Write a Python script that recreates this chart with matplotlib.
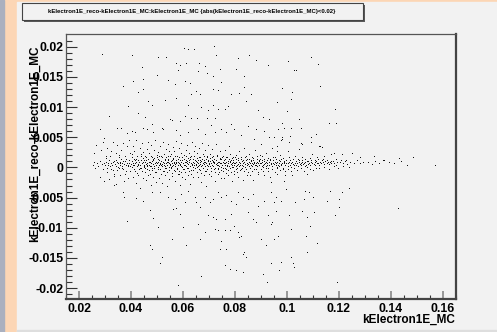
import numpy as np
import matplotlib
matplotlib.use("Agg")
from matplotlib import pyplot as plt
from matplotlib.patches import Rectangle

# all points are (kElectron1E_MC, reco - MC) in units of 1e-4
upper_tail = [(288,186),(405,185),(502,181),(534,181),(603,196),(620,194),(642,194),(719,200),(728,185),
              (811,179),(855,185),(881,177),(926,168),(441,164),(572,171),(588,168),(613,172),(662,172),
              (683,167),(581,159),(658,158),(692,154),(715,150),(741,161),(747,139),(804,161),(834,149),
              (409,142),(447,144),(501,151),(543,143),(569,137),(607,142),(626,138),(651,125),(632,120),
              (664,120),(715,128),(734,127),(785,120),(817,122),(834,131),(368,134),(428,124),(447,128),
              (464,109),(530,110),(575,114),(479,101),(390,100),(620,101),(671,98),(696,93),(715,101),
              (734,95),(760,95),(773,100),(843,109),(862,120),(887,93),(906,82),(932,79),(314,83),(426,89),
              (454,82),(479,70),(549,79),(556,77),(588,76),(607,83),(632,81),(655,80),(692,81),(707,68),
              (722,81),(747,62),(785,70),(798,62),(849,67),(881,62),(913,59),(932,48),(282,62),(298,47),
              (345,63),(362,64),(384,55),(403,59),(416,57),(447,64),(460,62),(486,57),(518,64),(524,62),
              (575,61),(588,52),(620,57),(658,62),(683,54),(724,57),(766,57),(824,52),(875,45),(900,37),
              (951,48),(964,62),
              (1094,181),(1004,174),(1119,170),(1025,159),(1035,159),(1127,134),(980,130),(1020,124),
              (1017,112),(961,106),(999,92),(1184,95),(1046,78),(981,72),(989,64),(1017,63),(1055,64),
              (1161,72),(1189,72),(1113,53),(1092,49),(1012,50),(980,48),(976,44),(1055,38),(1125,34),
              (1136,32),(961,33),(941,30),
              (979,45),(1008,40),(1059,37),(1091,40),(1127,34),(963,26),(1002,26),(1046,29),(1097,21),
              (1142,18),(1168,21),(1180,23),(1212,21),(1250,22),(1282,15),(1333,17),(1372,10),(1429,14),
              (1484,15)]

lower_tail = [(333,-31),(371,-42),(375,-51),(418,-53),(447,-57),(479,-43),(511,-42),(543,-51),(569,-54),
              (594,-46),(607,-59),(620,-40),(645,-51),(651,-59),(664,-68),(683,-51),(702,-59),(715,-54),
              (734,-43),(747,-51),(766,-48),(785,-57),(804,-62),(811,-43),(830,-51),(849,-54),(868,-46),
              (887,-65),(913,-57),(938,-43),(957,-51),(384,-90),(473,-73),(486,-85),(505,-101),(562,-70),
              (575,-69),(588,-79),(600,-101),(556,-120),(473,-130),(613,-131),(658,-95),(664,-120),
              (696,-81),(715,-84),(722,-103),(728,-87),(734,-106),(741,-137),(747,-123),(760,-87),
              (760,-106),(766,-137),(779,-106),(785,-79),(798,-98),(811,-109),(817,-117),(824,-115),
              (830,-145),(836,-142),(843,-150),(849,-76),(868,-87),(881,-92),(900,-120),(919,-131),
              (926,-81),(938,-95),(951,-120),(518,-150),(511,-160),(760,-163),(779,-170),(804,-172),
              (830,-175),(671,-181),(907,-178),(923,-192),(581,-197),(683,-109),(479,-137),
              (938,-26),(989,-24),(995,-37),(1068,-40),(1085,-43),(1101,-51),(1065,-54),(1152,-57),
              (1199,-54),(1212,-43),(1240,-35),(1165,-41),(976,-57),(951,-59),(1030,-59),(1199,-68),
              (957,-74),(1059,-74),(1104,-75),(1006,-81),(1184,-80),(1076,-84),(944,-92),(1088,-99),
              (1017,-103),(1426,-69),(966,-116),(1072,-116),(1114,-127),(1076,-142),(1015,-150),
              (976,-158),(938,-160),(1023,-160),(1027,-167),(970,-172),(1193,-191)]

band_core = [(252,3),(258,8),(263,-2),(268,5),(274,1),(281,9),(287,4),(293,-4),(297,6),
             (301,2),(304,7),(308,-3),(312,5),(315,11),(319,0),(323,6),(327,3),(331,-6),(334,9),(338,4),
             (342,1),(346,7),(349,-1),
             (351,5),(353,-2),(356,8),(359,3),(362,12),(364,0),(367,6),(370,-5),(373,4),(376,9),(379,2),
             (382,-8),(385,6),(388,3),(392,10),(396,1),
             (401,4),(403,9),(405,-1),(408,6),(410,13),(412,2),(415,-7),(417,5),(420,8),(422,0),(425,11),
             (427,3),(430,-4),(432,7),(435,2),(438,10),(440,-2),(443,5),(446,8),(449,1),
             (451,3),(453,7),(455,-3),(457,10),(459,4),(461,0),(463,6),(466,12),(468,-6),(470,3),(472,8),
             (474,1),(477,5),(479,-2),(481,9),(483,4),(486,13),(488,0),(491,6),(493,-9),(495,3),(498,7),
             (501,5),(502,-1),(504,8),(506,3),(508,11),(510,-4),(512,6),(514,2),(516,9),(518,0),(520,4),
             (523,7),(525,-7),(527,5),(529,12),(531,1),(534,6),(536,-3),(538,8),(540,3),(543,10),(545,-1),
             (547,5),(549,2),
             (551,4),(552,9),(554,-2),(556,6),(558,1),(560,12),(562,3),(564,-6),(566,7),(568,4),(570,0),
             (572,10),(575,5),(577,-3),(579,8),(581,2),(583,6),(585,-8),(588,4),(590,11),(592,1),(594,7),
             (596,-1),(599,5),
             (601,6),(603,2),(605,-4),(607,8),(609,3),(611,11),(613,0),(615,5),(617,9),(619,-2),(621,4),
             (624,7),(626,1),(628,12),(630,-6),(632,5),(634,3),(637,8),(639,-1),(641,6),(643,2),(645,10),
             (647,-3),(649,4),
             (651,3),(653,8),(655,-1),(657,5),(659,10),(661,2),(663,-5),(665,7),(667,4),(669,0),(671,9),
             (673,3),(676,6),(678,-3),(680,11),(682,4),(684,1),(686,7),(688,-7),(690,5),(692,2),(695,9),
             (697,0),(699,6),
             (701,4),(703,9),(705,1),(707,6),(709,-3),(711,11),(713,3),(715,7),(717,0),(719,5),(721,8),
             (723,-2),(725,4),(727,10),(729,2),(731,6),(733,-5),(735,3),(737,8),(740,1),(742,5),(744,12),
             (746,-1),(748,6),
             (751,3),(753,7),(755,-2),(757,5),(759,10),(761,2),(763,6),(765,-4),(767,8),(769,3),(771,0),
             (773,9),(775,5),(777,1),(779,7),(781,-3),(783,4),(785,11),(787,2),(789,6),(791,-1),(793,8),
             (795,3),(798,5),
             (801,6),(803,1),(805,8),(807,3),(809,-3),(811,10),(813,4),(815,0),(817,7),(819,2),(821,5),
             (824,-5),(826,9),(828,3),(830,6),(832,1),(834,8),(837,-1),(839,4),(842,11),(845,2),(848,6),
             (851,4),(853,8),(855,1),(857,5),(859,-2),(861,9),(863,3),(865,6),(867,0),(869,10),(871,4),
             (873,7),(875,-4),(877,2),(879,6),(881,3),(883,8),(886,0),(888,5),(891,11),(894,2),(897,6),
             (901,5),(903,1),(905,7),(907,3),(909,-1),(911,9),(913,4),(915,6),(918,0),(920,8),(922,3),
             (924,5),(927,-3),(929,7),(931,2),(934,10),(937,4),(940,6),(943,1),(947,5),
             (951,4),(953,7),(956,2),(958,5),(960,-1),(963,8),(965,3),(968,6),(970,0),(973,9),(975,4),
             (978,2),(981,6),(984,-2),(987,5),(990,8),(994,3),(998,6),
             (1002,5),(1005,1),(1008,7),(1011,3),(1014,6),(1017,-1),(1020,8),(1023,4),(1026,2),(1029,6),
             (1033,9),(1036,3),(1039,5),(1042,0),(1046,7),(1049,4),
             (1052,6),(1055,2),(1058,8),(1061,4),(1064,5),(1068,1),(1071,7),(1074,3),(1078,9),(1082,4),
             (1085,6),(1089,2),(1093,7),(1097,5),
             (1102,4),(1106,7),(1109,3),(1113,9),(1117,5),(1120,6),(1124,2),(1128,8),(1132,5),(1137,7),
             (1141,4),(1146,9),
             (1152,6),(1157,8),(1161,4),(1166,7),(1171,5),(1176,9),(1181,6),(1187,3),(1194,8),
             (1205,7),(1214,5),(1223,9),(1232,4),(1241,8),(1256,6),(1268,10),(1279,5),(1291,7),
             (1312,8),(1326,4),(1339,9),(1355,6),(1371,11),(1392,7),(1413,5),(1437,9),(1461,3),(1568,3)]

band_wide = [(302,14),(308,-9),(313,3),(319,17),(325,-4),(331,8),(336,-12),(342,11),(348,-6),(353,15),
             (359,5),(365,-2),(370,9),(376,-13),(382,12),(387,0),(393,6),(398,-8),
             (402,16),(406,2),(410,-5),(414,10),(418,13),(422,-11),(426,4),(430,7),(434,-3),(438,18),
             (442,-7),(446,14),(449,-1),
             (451,11),(454,-9),(457,16),(460,3),(463,-4),(466,13),(469,8),(472,-12),(475,17),(478,1),
             (481,-6),(484,10),(487,14),(490,-2),(493,6),(496,-10),(499,15),
             (502,12),(505,-5),(508,17),(511,4),(514,-13),(517,9),(520,15),(523,-8),(526,2),(529,11),
             (532,-3),(535,16),(538,-10),(541,7),(544,13),(547,-6),(550,18),
             (553,-1),(556,10),(559,-11),(562,14),(565,5),(568,-7),(571,17),(574,8),(577,-4),(580,12),
             (583,-12),(586,15),(589,3),(592,-9),(595,11),(598,16),
             (601,-5),(604,13),(607,-10),(610,17),(613,7),(616,-3),(619,14),(622,-8),(625,10),(628,15),
             (631,-12),(634,4),(637,12),(640,-6),(643,18),(646,-2),(649,9),
             (652,-9),(655,14),(658,1),(661,16),(664,-6),(667,11),(670,-11),(673,13),(676,-3),(679,17),
             (682,7),(685,-8),(688,12),(691,15),(694,-5),(697,10),
             (700,-12),(703,14),(706,5),(709,-7),(712,16),(715,9),(718,-4),(721,13),(724,-10),(727,11),
             (730,17),(733,-2),(736,8),(739,-9),(742,14),(745,-6),(748,12),
             (751,15),(754,-8),(757,10),(760,-3),(763,13),(766,-11),(769,16),(772,6),(775,-6),(778,12),
             (781,9),(784,-9),(787,14),(790,-1),(793,11),(796,-7),(799,15),
             (802,-4),(805,12),(809,-10),(812,14),(816,7),(819,-6),(823,13),(826,-2),(830,10),(833,-8),
             (837,15),(840,4),(844,-5),(847,12),
             (851,-9),(855,13),(859,-3),(863,11),(867,-7),(871,14),(875,6),(879,-5),(883,12),(887,-10),
             (891,9),(895,13),(899,-4),
             (903,11),(908,-7),(913,13),(918,-3),(923,10),(928,-8),(933,12),(938,5),(943,-5),(948,11),
             (953,-9),(958,13),(963,-2),(968,10),(973,-6),(978,12),(983,-4),(988,9),(993,-7),(998,11),
             (1004,-5),(1010,10),(1016,-8),(1022,12),(1028,-3),(1034,9),(1040,-6),(1046,11),(1052,-2),
             (1058,10),(1064,-7),(1070,12),(1076,-1),(1082,9),(1088,-4),(1094,11),(1100,-6),(1106,10),
             (1112,-2),(1118,12),
             (1125,-3),(1134,10),(1143,-1),(1152,11),(1161,-4),(1170,9),(1179,0),(1188,12),(1197,-2),
             (1206,10),(1215,1),(1228,11),(1240,-1)]

band_halo = [(256,22),(266,35),(279,-18),(284,28),(291,41),(298,-25),
             (303,18),(309,31),(317,-21),(322,25),(329,40),(336,-16),(341,22),(347,36),(344,-29),
             (354,19),(358,-15),(363,27),(368,38),(372,-24),(377,17),(384,33),(389,-19),(393,44),(398,23),
             (402,21),(406,-17),(409,34),(413,26),(418,-28),(421,43),(424,17),(428,-14),(433,31),(436,-36),
             (439,20),(442,39),(445,-19),(448,24),
             (452,18),(456,-22),(460,29),(464,41),(467,-15),(471,23),(475,35),(478,-31),(482,16),(485,-18),
             (489,27),(492,44),(496,-26),(499,19),
             (503,24),(507,-19),(511,33),(515,17),(519,-27),(522,40),(526,21),(530,-15),(533,29),(537,-33),
             (541,18),(544,37),(546,-21),(548,26),
             (553,20),(557,-16),(561,32),(565,25),(569,-24),(573,42),(576,18),(580,-13),(584,30),(587,-30),
             (591,22),(593,38),(595,-18),(598,16),
             (602,19),(606,-21),(610,28),(614,36),(618,-14),(623,22),(627,-29),(631,17),(635,41),(640,-17),
             (644,25),(648,33),
             (652,23),(656,-18),(660,31),(664,16),(668,-26),(672,39),(677,20),(681,-15),(685,27),(689,-32),
             (693,18),(698,35),
             (702,21),(706,-16),(712,29),(716,17),(722,-24),(726,37),(732,19),(736,-13),(741,26),(747,-20),
             (752,18),(756,-19),(762,27),(766,15),(772,-14),(776,33),(782,20),(788,-25),(792,16),(797,-12),
             (804,19),(810,-17),(816,26),(822,15),(829,-22),(836,31),(841,17),(847,-14),
             (854,21),(858,-15),(864,16),(870,-23),(876,28),(884,17),(890,-13),(896,19),
             (904,17),(912,-14),(919,22),(926,14),(935,-18),(945,16),
             (955,16),(962,-13),(972,19),(983,14),(993,-15),
             (1007,15),(1018,-14),(1031,18),(1044,13),
             (1059,16),(1076,-12),(1090,14),
             (1115,15),(1139,13)]

title = "kElectron1E_reco-kElectron1E_MC:kElectron1E_MC {abs(kElectron1E_reco-kElectron1E_MC)<0.02}"
xlabel = "kElectron1E_MC"
ylabel = "kElectron1E_reco-kElectron1E_MC"

pts = np.array(upper_tail + lower_tail + band_core + band_wide + band_halo, dtype=float) * 1e-4

W, H = 497, 332
fig = plt.figure(figsize=(W / 100, H / 100), dpi=100)
fig.patch.set_facecolor("#fcd6b5")

# screenshot surroundings + ROOT canvas
fig.patches.append(Rectangle((0, 0), 4 / W, 1, transform=fig.transFigure, color="#aab0bf", zorder=0))
fig.patches.append(Rectangle((17 / W, 0), 1, 1 - 2 / H, transform=fig.transFigure, color="#f2f2f2", zorder=0))
fig.patches.append(Rectangle((17 / W, 0), 1, 2 / H, transform=fig.transFigure, color="#dedede", zorder=0))

# title box with shadow
fig.patches.append(Rectangle((24 / W, 1 - 22 / H), 341 / W, 17 / H, transform=fig.transFigure,
                             facecolor="#5a5a5a", edgecolor="none", zorder=1))
fig.patches.append(Rectangle((22 / W, 1 - 20 / H), 341 / W, 17 / H, transform=fig.transFigure,
                             facecolor="#f2f2f2", edgecolor="#444444", lw=0.8, zorder=2))
fig.text(192 / W, 1 - 11.5 / H, title, ha="center", va="center", fontsize=4.3,
         fontweight="bold", family="Liberation Sans", zorder=3)

ax = fig.add_axes([66 / W, 1 - 299 / H, 390 / W, 265 / H])
ax.set_zorder(5)
ax.set_facecolor("#f2f2f2")
ax.plot(pts[:, 0], pts[:, 1], ",", color="#111111")

ax.set_xlim(0.0158, 0.165)
ax.set_ylim(-0.0218, 0.0221)
ax.set_xticks(np.arange(0.02, 0.161, 0.02))
ax.set_xticks(np.arange(0.015, 0.165, 0.005), minor=True)
ax.set_yticks(np.arange(-0.02, 0.0201, 0.005))
ax.set_yticks(np.arange(-0.021, 0.022, 0.001), minor=True)
ax.set_xticklabels(["0.02", "0.04", "0.06", "0.08", "0.1", "0.12", "0.14", "0.16"])
ax.set_yticklabels(["-0.02", "-0.015", "-0.01", "-0.005", "0", "0.005", "0.01", "0.015", "0.02"])

ax.tick_params(axis="both", which="both", direction="in", top=False, right=False, colors="#333333")
ax.tick_params(axis="x", which="major", length=5.8, width=1.2, pad=3, color="#888888")
ax.tick_params(axis="x", which="minor", length=3.2, width=0.8)
ax.tick_params(axis="y", which="major", length=7.9, width=0.8, pad=2)
ax.tick_params(axis="y", which="minor", length=4.0, width=0.8)
for lab in ax.get_xticklabels() + ax.get_yticklabels():
    lab.set_fontsize(8.8)
    lab.set_fontweight("bold")
    lab.set_family("Liberation Sans")
    lab.set_color("black")

for s in ["top", "left"]:
    ax.spines[s].set_color("#555555")
    ax.spines[s].set_linewidth(0.9)
for s in ["right", "bottom"]:
    ax.spines[s].set_color("#444444")
    ax.spines[s].set_linewidth(1.6)

fig.text(455 / W, 1 - 320 / H, xlabel, ha="right", va="center", fontsize=8.5,
         fontweight="bold", family="Liberation Sans", zorder=6)
fig.text(35 / W, 1 - 45 / H, ylabel, ha="center", va="top", rotation=90, fontsize=8.5,
         fontweight="bold", family="Liberation Sans", zorder=6)

fig.savefig("out.png", dpi=100, facecolor=fig.get_facecolor())
